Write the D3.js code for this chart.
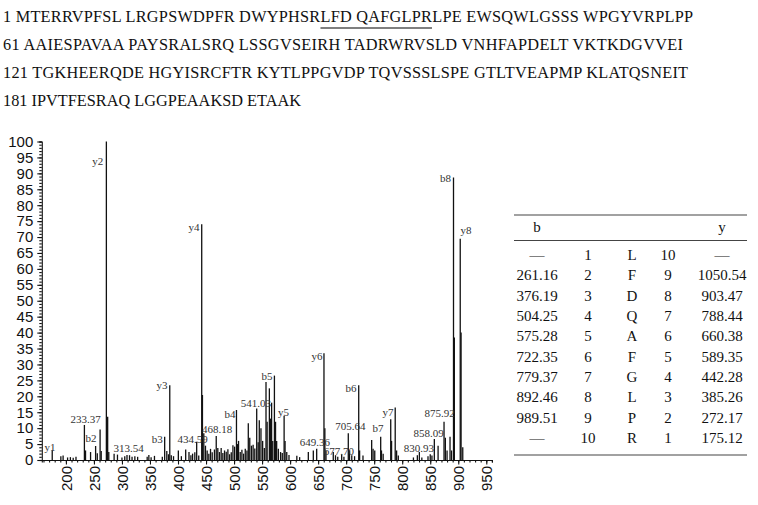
<!DOCTYPE html>
<html>
<head>
<meta charset="utf-8">
<script src="https://cdn.jsdelivr.net/npm/d3@7"></script>
<style>
  body { margin: 0; background: #fff; }
  svg { display: block; font-family: 'Liberation Serif', 'DejaVu Serif', serif; }
</style>
</head>
<body>
<div id="chart"></div>
<script>

// DATA

const seqLines = [
    '1 MTERRVPFSL LRGPSWDPFR DWYPHSRLFD QAFGLPRLPE EWSQWLGSSS WPGYVRPLPP',
    '61 AAIESPAVAA PAYSRALSRQ LSSGVSEIRH TADRWRVSLD VNHFAPDELT VKTKDGVVEI',
    '121 TGKHEERQDE HGYISRCFTR KYTLPPGVDP TQVSSSLSPE GTLTVEAPMP KLATQSNEIT',
    '181 IPVTFESRAQ LGGPEAAKSD ETAAK'
];
const seqMark = 'LFD QAFGLPR';

const peakMz = [
    175.6, 191, 195, 203, 208, 213, 218, 233, 235, 244, 253, 256, 261, 263,
    272.2, 274.5, 276.5, 286, 292, 300, 305, 309, 313.5, 318, 323, 328,
    345, 348, 352, 358, 372, 376.2, 380, 383, 385.3, 388, 392, 400.6, 406,
    413.7, 419.6, 423, 426, 430, 433.3, 437, 442.3, 443.6, 446, 449, 452,
    455, 458, 461, 465, 468.2, 471, 474, 477, 480, 483, 486, 489, 492, 495,
    498, 501, 504.3, 506, 508, 511, 514, 517, 520, 523, 525.4, 528, 531,
    534, 537, 540.4, 543, 545, 548, 551, 554, 557, 559, 563, 565, 567, 569,
    572, 574, 576, 579, 583, 586, 589.3, 591, 594, 598, 612, 617, 632.5,
    641.4, 647.4, 660.4, 662, 664, 677, 681, 685, 692, 696, 703.8, 706, 710,
    715, 722.4, 724, 730, 745.5, 748, 751, 761.6, 763, 766, 779.5, 781,
    787.5, 790, 793, 820, 827, 830.6, 835, 846, 850, 853, 857.3, 864, 874.6,
    877, 880, 885.3, 888, 891.5, 893, 903.5, 905, 908
];
const peakInt = [
    3.1, 1.2, 1.4, 0.8, 0.9, 0.7, 1.0, 11, 3, 2.5, 4.4, 2.1, 9.6, 2.8,
    100, 13.6, 2.5, 2, 1.7, 0.8, 1.2, 1.6, 1.5, 1.0, 1.2, 1.0,
    1.0, 1.6, 0.9, 1.3, 1.0, 7.3, 2.8, 1.8, 23.5, 1.5, 1.2, 3, 1.2,
    3.3, 2.5, 1.5, 2, 2.4, 5.7, 1.4, 74, 20.4, 8.4, 4.5, 3,
    2, 3.5, 2.4, 3.3, 7.5, 3.8, 2.5, 3.8, 2.2, 3.0, 2.6, 3.4, 1.8, 2.4,
    4.6, 4.2, 15.7, 5, 6, 2.5, 3.2, 2.0, 3.5, 3.0, 11.5, 7, 4.5,
    4.8, 3.6, 16.2, 5.6, 12.5, 10, 6, 3.8, 24.5, 12, 22.5, 13, 18, 6,
    26.5, 12, 6, 3.5, 2.5, 2.2, 13.9, 6, 2.5, 1.6, 1.3, 0.9, 2.5,
    3, 3.5, 33.5, 10, 3, 2.5, 1.5, 1.0, 1.7, 1.0, 8.4, 3, 1.5,
    1.2, 23.5, 3, 1.4, 6.3, 3.5, 3, 7.3, 3, 2, 12.8, 6,
    16.5, 3, 1.4, 0.8, 1.5, 2.5, 0.8, 1.2, 1.8, 1.4, 6.6, 4.5, 12,
    7, 3, 7.3, 3, 88.7, 38.5, 69.5, 40, 4
];

const labelText = [
    'y1', '233.37', 'b2', 'y2', '313.54', 'b3', 'y3', '434.59', 'y4', '468.18',
    'b4', '541.03', 'b5', 'y5', '649.36', 'y6', '677.70', '705.64', 'b6', 'b7',
    'y7', '830.93', '858.09', '875.92', 'b8', 'y8'
];
const labelMz = [
    171.6, 235, 244.6, 257, 311.7, 363, 371.5, 426, 428.5, 469.6,
    492.8, 539, 558.6, 588.2, 644.4, 648, 687.2, 707.6, 708.5, 756.7,
    774.5, 829.8, 847, 866.6, 877.2, 913.6
];
const labelInt = [
    2.8, 11.6, 5.7, 92.6, 2.5, 5.3, 22.3, 5.3, 71.9, 8.5,
    13.2, 16.6, 25.1, 13.8, 4.4, 31.4, 1.6, 9.4, 21.4, 8.8,
    13.8, 2.5, 7.2, 13.5, 87.3, 71
];

const xTicks = d3.range(200, 951, 50);
const xMinor = d3.range(160, 961, 10);
const yTicks = d3.range(0, 101, 5);
const yMinor = d3.range(0, 101, 1);

const tableHead = ['b', '', '', '', 'y'];
const bIons = ['—', '261.16', '376.19', '504.25', '575.28', '722.35', '779.37', '892.46', '989.51', '—'];
const bPos = ['1', '2', '3', '4', '5', '6', '7', '8', '9', '10'];
const residues = ['L', 'F', 'D', 'Q', 'A', 'F', 'G', 'L', 'P', 'R'];
const yPos = ['10', '9', '8', '7', '6', '5', '4', '3', '2', '1'];
const yIons = ['—', '1050.54', '903.47', '788.44', '660.38', '589.35', '442.28', '385.26', '272.17', '175.12'];

// SVG

const width = 758;
const height = 505;

const svg = d3.select('#chart')
    .append('svg')
        .attr('width', width)
        .attr('height', height);

// SEQUENCE

const seqY = d3.scaleLinear().domain([0, 3]).range([22, 106]);
// line widths as set in the figure
const seqWidth = [690, 680, 685, 298];

const seq = svg.append('g')
    .selectAll('text')
    .data(seqLines)
    .join('text')
        .attr('x', 3)
        .attr('y', (d, i) => seqY(i))
        .attr('font-size', 16.3)
        .attr('fill', '#111')
        .attr('textLength', (d, i) => seqWidth[i])
        .attr('lengthAdjust', 'spacing')
        .text(d => d);

// underline the peptide
const first = seq.nodes()[0];
const k = seqLines[0].indexOf(seqMark);
const x0 = first.getStartPositionOfChar(k).x;
const x1 = first.getEndPositionOfChar(k + seqMark.length - 1).x;
svg.append('line')
    .attr('x1', x0)
    .attr('x2', x1)
    .attr('y1', seqY(0) + 6)
    .attr('y2', seqY(0) + 6)
    .attr('stroke', '#555')
    .attr('stroke-width', 1.3);

// SPECTRUM

const x = d3.scaleLinear()
    .domain([157, 960])
    .range([41.8, 491.9]);
const y = d3.scaleLinear()
    .domain([0, 100])
    .range([460, 141.5]);

const peaks = peakMz.map((d, i) => ({mz: d, int: peakInt[i]}));

svg.append('g')
    .selectAll('line')
    .data(peaks)
    .join('line')
        .attr('x1', d => x(d.mz))
        .attr('x2', d => x(d.mz))
        .attr('y1', y(0))
        .attr('y2', d => y(d.int))
        .attr('stroke', '#111')
        .attr('stroke-width', 1.3);

// axes
const yAxis = g => g
    .attr('transform', `translate(${x(157)},0)`)
    .call(d3.axisLeft(y).tickValues(yMinor).tickSize(2.5).tickFormat(''))
    .call(g => g.append('g')
        .call(d3.axisLeft(y).tickValues(yTicks).tickSize(4.5).tickPadding(4))
        .call(g => g.select('.domain').remove()))
    .call(g => g.selectAll('text')
        .attr('font-family', null)
        .attr('font-size', 15)
        .attr('fill', '#111'));

const xAxis = g => g
    .attr('transform', `translate(0,${y(0)})`)
    .call(d3.axisBottom(x).tickValues(xMinor).tickSize(2.5).tickFormat(''))
    .call(g => g.append('g')
        .call(d3.axisBottom(x).tickValues(xTicks).tickSize(4.5))
        .call(g => g.select('.domain').remove())
        .call(g => g.selectAll('text')
            .attr('font-family', null)
            .attr('font-size', 15)
            .attr('fill', '#111')
            .attr('text-anchor', 'end')
            .attr('dy', '0.35em')
            .attr('transform', 'translate(0,6) rotate(-90)')
            .attr('x', 0)
            .attr('y', 0)));

svg.append('g').call(yAxis);
svg.append('g').call(xAxis);
svg.selectAll('.domain, .tick line').attr('stroke', '#111').attr('stroke-width', 1.1);

// peak labels
svg.append('g')
    .selectAll('text')
    .data(labelText)
    .join('text')
        .attr('x', (d, i) => x(labelMz[i]))
        .attr('y', (d, i) => y(labelInt[i]))
        .attr('text-anchor', 'middle')
        .attr('font-size', 11)
        .attr('fill', '#333')
        .text(d => d);

// TABLE

const colX = d3.scaleOrdinal()
    .domain([0, 1, 2, 3, 4])
    .range([537, 588, 632, 668, 722]);
const rowY = d3.scaleLinear()
    .domain([0, 9])
    .range([260, 443]);

const table = svg.append('g')
    .attr('font-size', 15)
    .attr('fill', '#111')
    .attr('text-anchor', 'middle');

[215, 240.5, 455].forEach(ry => {
    table.append('line')
        .attr('x1', 514)
        .attr('x2', 747)
        .attr('y1', ry)
        .attr('y2', ry)
        .attr('stroke', '#444')
        .attr('stroke-width', 1.2);
});

table.selectAll('.head')
    .data(tableHead)
    .join('text')
        .attr('class', 'head')
        .attr('x', (d, i) => colX(i))
        .attr('y', 232)
        .text(d => d);

const rows = bIons.map((d, i) => [d, bPos[i], residues[i], yPos[i], yIons[i]]);

table.selectAll('.row')
    .data(rows)
    .join('g')
        .attr('class', 'row')
        .attr('transform', (d, i) => `translate(0,${rowY(i)})`)
    .selectAll('text')
    .data(d => d)
    .join('text')
        .attr('x', (d, i) => colX(i))
        .text(d => d);

</script>
</body>
</html>
